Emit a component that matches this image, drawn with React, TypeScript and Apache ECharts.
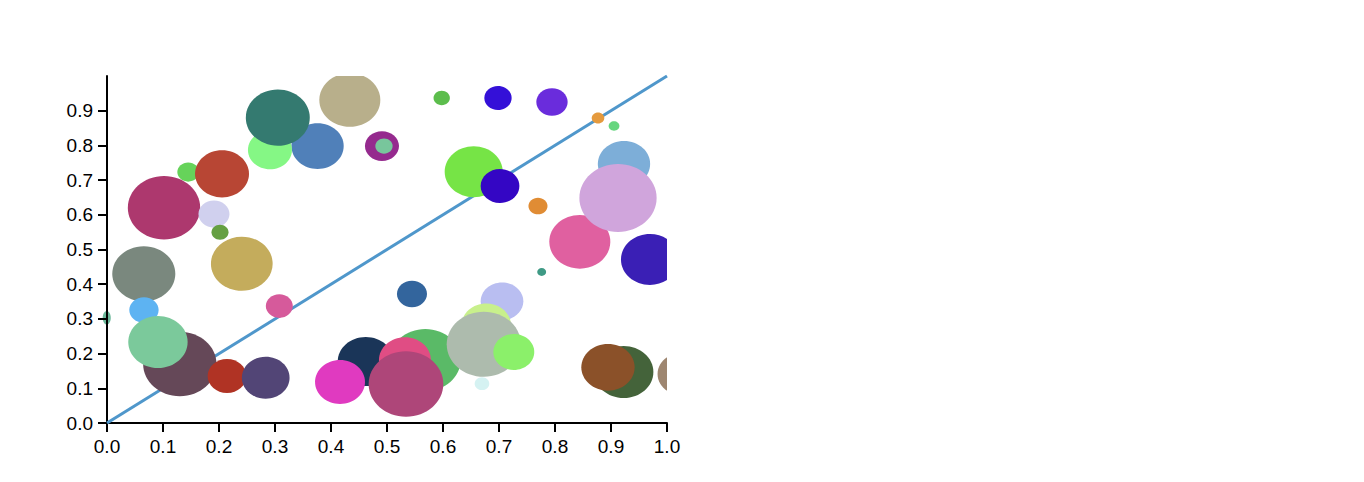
import React, { useEffect, useRef } from "react";
import * as echarts from "echarts";

// Bubble data, listed in drawing order (bottom to top)
const bubbleX = [
  0.376, 0.291, 0.305, 0.4336, 0.491, 0.4946, 0.145, 0.2054, 0.1018, 0.191,
  0.2018, 0.2407, 0.0657, 0.066, 0.13, 0.091, 0.2143, 0.2834, 0.3077, 0.5977,
  0.6548, 0.7018, 0.6982, 0.7946, 0.8768, 0.9054, 0.9232, 0.7696, 0.8443, 0.9125,
  0.9696, 0.7762, 0.5446, 0.7054, 0.6773, 0.5616, 0.5684, 0.6729, 0.7264, 0.6696,
  0.462, 0.4161, 0.532, 0.5339, 0.9227, 0.8946, 1.026,
];
const bubbleY = [
  0.798, 0.787, 0.88, 0.931, 0.798, 0.798, 0.723, 0.718, 0.6205, 0.602,
  0.5496, 0.459, 0.43, 0.3256, 0.17, 0.2334, 0.1354, 0.1305, 0.337, 0.9366,
  0.7239, 0.683, 0.9366, 0.925, 0.879, 0.8559, 0.7464, 0.6254, 0.522, 0.6484,
  0.4712, 0.4352, 0.3718, 0.3507, 0.2824, 0.245, 0.1816, 0.2271, 0.2046, 0.1133,
  0.1772, 0.1182, 0.1816, 0.1124, 0.147, 0.1605, 0.1412,
];
const bubbleR = [
  0.0467, 0.0393, 0.0571, 0.0545, 0.0304, 0.0155, 0.0194, 0.0482, 0.0646, 0.0277,
  0.0152, 0.0551, 0.0563, 0.0262, 0.0655, 0.053, 0.0346, 0.0426, 0.0241, 0.0146,
  0.0518, 0.0346, 0.0244, 0.028, 0.0113, 0.0096, 0.0467, 0.017, 0.0545, 0.069,
  0.0518, 0.008, 0.0268, 0.0381, 0.044, 0.016, 0.0631, 0.0663, 0.0366, 0.0131,
  0.05, 0.0446, 0.0464, 0.0667, 0.053, 0.0476, 0.0429,
];
const bubbleColor = [
  "#5080b9", "#85f785", "#347a70", "#b8af8b", "#952a8e", "#78c69c", "#66d35a", "#b84634", "#ad386e", "#d0d0ee",
  "#65a042", "#c4ac5c", "#7a887e", "#5db3f2", "#654858", "#7bc99b", "#b03324", "#524576", "#d65a9b", "#5cbd4c",
  "#76e446", "#3406c4", "#3410d8", "#6a2cdc", "#e59a3e", "#66d67f", "#7daed8", "#e08c34", "#e060a0", "#d0a5dc",
  "#3a1fb5", "#3f9a85", "#33659d", "#b9bef1", "#c8f08c", "#d8432d", "#5aba67", "#adbbad", "#8bf06a", "#d5f2f2",
  "#1a3558", "#e03ac0", "#e04d84", "#ae4679", "#44633a", "#8b5129", "#9e8670",
];

// Small bubble sitting on the left axis (not clipped)
const edgeX = [-0.0005];
const edgeY = [0.303];
const edgeR = [0.0072];
const edgeColor = ["#6cb89a"];

// Reference diagonal
const diagX = [0, 1];
const diagY = [0, 1];

const xTicks = [0, 0.1, 0.2, 0.3, 0.4, 0.5, 0.6, 0.7, 0.8, 0.9, 1.0];
const yTicks = [0, 0.1, 0.2, 0.3, 0.4, 0.5, 0.6, 0.7, 0.8, 0.9];

const ASPECT = 1.14;
const FONT = "'Liberation Sans', Arial, Helvetica, sans-serif";

export default function App() {
  const ref = useRef<HTMLDivElement>(null);
  useEffect(() => {
    if (!ref.current) return;
    const chart = echarts.init(ref.current, undefined, { renderer: "svg" });
    const bubbles = bubbleX.map((x, i) => [x, bubbleY[i], bubbleR[i]]);
    const edge = edgeX.map((x, i) => [x, edgeY[i], edgeR[i]]);
    const axisCommon = {
      type: "value" as const,
      min: 0,
      max: 1,
      splitLine: { show: false },
      axisLine: { show: true, lineStyle: { color: "#000", width: 2 } },
      axisTick: { show: true, length: 9, lineStyle: { color: "#000", width: 2 } },
      axisLabel: {
        color: "#000",
        fontSize: 19,
        fontFamily: FONT,
        margin: 14,
        formatter: (v: number) => v.toFixed(1),
      },
    };
    chart.setOption({
      animation: false,
      grid: { left: 107, right: 697, top: 76, bottom: 59, containLabel: false },
      xAxis: {
        ...axisCommon,
        axisTick: { ...axisCommon.axisTick, customValues: xTicks },
        axisLabel: { ...axisCommon.axisLabel, customValues: xTicks },
      },
      yAxis: {
        ...axisCommon,
        axisTick: { ...axisCommon.axisTick, customValues: yTicks },
        axisLabel: { ...axisCommon.axisLabel, customValues: yTicks },
      },
      series: [
        {
          type: "line",
          z: 1,
          data: diagX.map((x, i) => [x, diagY[i]]),
          showSymbol: false,
          symbol: "none",
          lineStyle: { color: "#4f97cb", width: 3 },
          silent: true,
        },
        {
          type: "custom",
          z: 2,
          clip: true,
          data: bubbles,
          encode: { x: 0, y: 1 },
          renderItem: (params: any, api: any) => {
            const c = api.coord([api.value(0), api.value(1)]);
            const rx = api.size([api.value(2), 0])[0];
            return {
              type: "ellipse",
              shape: { cx: c[0], cy: c[1], rx, ry: rx / ASPECT },
              style: { fill: bubbleColor[params.dataIndex] },
            };
          },
        },
        {
          type: "custom",
          z: 0,
          clip: false,
          data: edge,
          encode: { x: 0, y: 1 },
          renderItem: (params: any, api: any) => {
            const c = api.coord([api.value(0), api.value(1)]);
            const rx = api.size([api.value(2), 0])[0];
            return {
              type: "ellipse",
              shape: { cx: c[0], cy: c[1], rx, ry: rx * 1.7 },
              style: { fill: edgeColor[params.dataIndex] },
            };
          },
        },
      ],
    });
    return () => chart.dispose();
  }, []);
  return (
    <div
      ref={ref}
      style={{ position: "absolute", left: 0, top: 0, width: 1364, height: 482 }}
    />
  );
}
